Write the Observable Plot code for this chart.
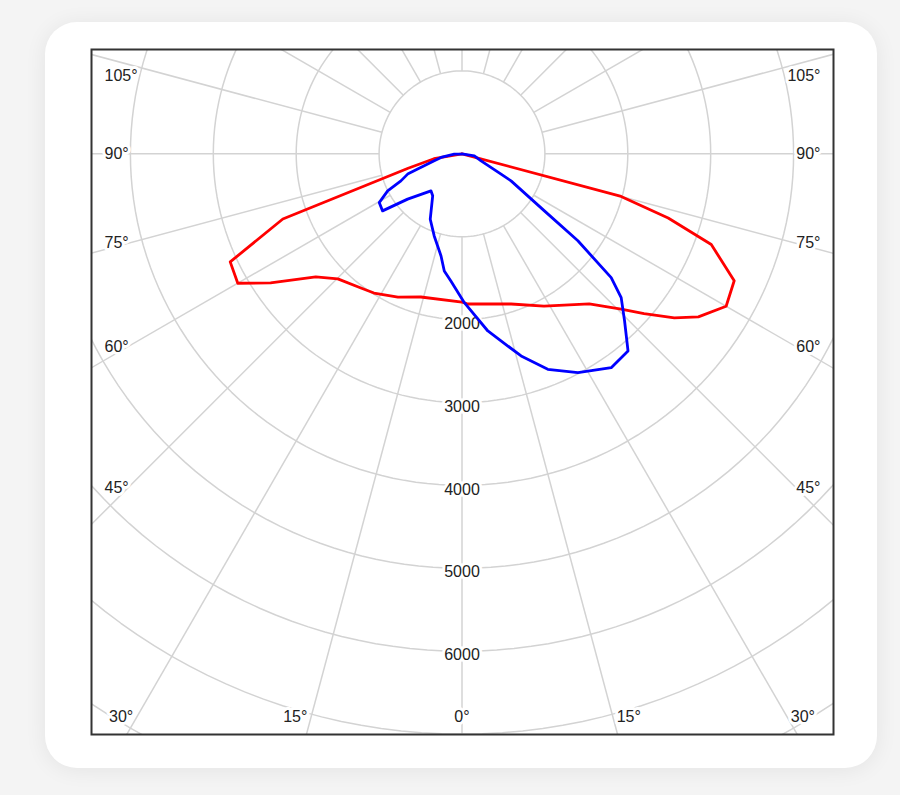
<!DOCTYPE html>
<html><head><meta charset="utf-8">
<script src="https://cdn.jsdelivr.net/npm/d3@7"></script>
<script src="https://cdn.jsdelivr.net/npm/@observablehq/plot@0.6"></script>
<style>
html,body{margin:0;padding:0;}
body{width:900px;height:795px;background:#f4f4f4;position:relative;overflow:hidden;font-family:"Liberation Sans",Arial,sans-serif;}
#card{position:absolute;left:45px;top:22px;width:832px;height:746px;background:#fff;border-radius:32px;box-shadow:0 2px 22px rgba(0,0,0,0.07);}
#chart{position:absolute;left:0;top:0;}
#chart svg{background:transparent;}
</style></head><body>
<div id="card"></div><div id="chart"></div>
<script>
// ---- data (angles in degrees from nadir; negative = left half-plane) ----
const ringValues = [1000, 2000, 3000, 4000, 5000, 6000, 7000, 8000, 9000];
const ringLabelValues = [2000, 3000, 4000, 5000, 6000];
const spokeAngles = d3.range(0, 360, 15);
const angleTickLabels = [105, 90, 75, 60, 45, 30, 15, 0];

const redAngles = [90, 80, 75, 72.7, 70, 65, 60, 55.4, 52.3, 48.7, 45.7, 40.3, 28.3, 18.1, 2.3, 0,
  -16, -24.1, -32.3, -37, -44.8, -49.9, -56, -60, -65, -70, -75, -80, -90];
const redValues = [0, 0, 1987, 2605, 3200, 3623, 3679, 3464, 3237, 2923, 2681, 2373, 2086, 1906, 1813, 1790,
  1797, 1893, 1987, 2026, 2126, 2306, 2785, 3123, 3085, 2300, 673, 343, 0];

const blueAngles = [90, 80.8, 69.8, 62.5, 61.1, 55.3, 53.1, 50.3, 47.9, 44.2, 40.1, 34.9, 27.9, 21.7, 16.3, 8.3, 0.9,
  -5, -8.6, -11.6, -18.7, -25.9, -34.9, -40, -50.2, -54.3, -59.5, -63.5, -66.1, -69.5, -71, -75.8, -80.1, -88, -90];
const blueValues = [0, 151, 245, 531, 676, 1209, 1748, 2339, 2588, 2813, 3109, 3146, 2988, 2798, 2541, 2160, 1796,
  1540, 1429, 1258, 1046, 877, 618, 583, 854, 1180, 1159, 1002, 806, 700, 566, 345, 257, 93, 0];

// ---- layout ----
const W = 900, H = 795, mL = 91, mR = 67, mT = 49, mB = 61;
const cx = 461.5, cy = 153.3, k = 0.0829; // pixel centre of pole, px per unit
const xDom = [-(cx - mL) / k, (W - mR - cx) / k];
const yDom = [-(H - mB - cy) / k, (cy - mT) / k];

const rad = a => a * Math.PI / 180;
const P = (a, v) => ({x: v * Math.sin(rad(a)), y: -v * Math.cos(rad(a))});
const curve = (angles, values) => angles.map((a, i) => P(a, values[i]));

const redPts = curve(redAngles, redValues); redPts.push(redPts[0]);
const bluePts = curve(blueAngles, blueValues); bluePts.push(bluePts[0]);

const rings = ringValues.flatMap(r => d3.range(0, 361, 2).map(a => ({r, ...P(a, r)})));
const spokes = spokeAngles.map(a => {
  const p1 = P(a, 1000), p2 = P(a, 12000);
  return {x1: p1.x, y1: p1.y, x2: p2.x, y2: p2.y};
});

// angle labels: placed where each ray leaves the frame (sides or bottom)
const toU = (px, py) => ({x: (px - cx) / k, y: (cy - py) / k});
const startL = [], endL = [], midL = [];
for (const a of angleTickLabels) {
  for (const side of (a === 0 ? [1] : [-1, 1])) {
    const s = Math.sin(rad(a)), c = Math.cos(rad(a));
    const halfW = side < 0 ? cx - mL : W - mR - cx;
    const halfH = H - mB - cy;
    const tSide = halfW / s, tBot = c > 0 ? halfH / c : Infinity;
    const text = a + "°";
    if (a !== 0 && tSide <= tBot) {
      const px = side < 0 ? mL + 13 : W - mR - 13;
      const h = 344.5;
      const py = Math.max(mT + 26, cy + 0.97 * h * c / s);
      (side < 0 ? startL : endL).push({...toU(px, py), text});
    } else {
      const py = H - mB - 18;
      const dx = (py - cy) * s / c;
      const px = cx + side * (dx + (a > 0 ? 16 : 0));
      midL.push({...toU(px, py), text});
    }
  }
}

const font = {fontSize: 16, fill: "#222", stroke: "white", strokeWidth: 6, fontFamily: "Liberation Sans, Arial, sans-serif"};

const chart = Plot.plot({
  width: W, height: H,
  marginLeft: mL, marginRight: mR, marginTop: mT, marginBottom: mB,
  x: {domain: xDom, axis: null},
  y: {domain: yDom, axis: null},
  style: {background: "transparent", overflow: "visible"},
  marks: [
    Plot.line(rings, {x: "x", y: "y", z: "r", stroke: "#d3d3d3", strokeWidth: 1.5, clip: true}),
    Plot.link(spokes, {x1: "x1", y1: "y1", x2: "x2", y2: "y2", stroke: "#d3d3d3", strokeWidth: 1.5, clip: true}),
    Plot.text(ringLabelValues, {x: 0, y: d => -d, text: d => String(d), dy: 4, ...font}),
    Plot.text(startL, {x: "x", y: "y", text: "text", textAnchor: "start", ...font}),
    Plot.text(endL, {x: "x", y: "y", text: "text", textAnchor: "end", ...font}),
    Plot.text(midL, {x: "x", y: "y", text: "text", textAnchor: "middle", ...font}),
    Plot.line(redPts, {x: "x", y: "y", stroke: "#ff0000", strokeWidth: 2.8, curve: "linear"}),
    Plot.line(bluePts, {x: "x", y: "y", stroke: "#0000ff", strokeWidth: 2.8, curve: "linear"}),
    Plot.frame({stroke: "#333", strokeWidth: 2})
  ]
});
document.getElementById("chart").append(chart);
</script>
</body></html>
